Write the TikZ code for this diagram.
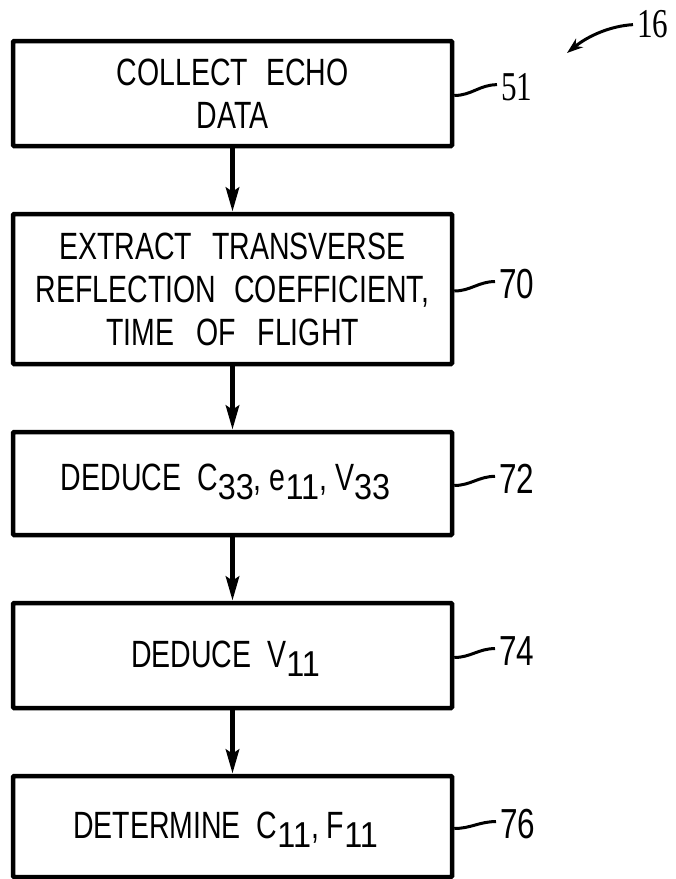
\documentclass[tikz,border=0pt]{standalone}
\usepackage{fontspec}
\setmainfont{Liberation Sans}[FakeStretch=0.75]
\newfontfamily\serlab{Liberation Serif}[FakeStretch=0.76]
\newfontfamily\subfnt{Liberation Sans}[FakeStretch=0.9]
\usetikzlibrary{arrows.meta,calc}
\newcommand\sbx[1]{\smash{\raisebox{-9pt}{\subfnt\fontsize{36}{36}\selectfont #1}}}
\begin{document}
\begin{tikzpicture}[x=1pt,y=-1pt,
  box/.style={draw, line width=4.5pt, minimum width=439pt, inner sep=0pt,
    font=\fontsize{38}{43}\selectfont, rounded corners=1pt},
  flow/.style={line width=5pt, -{Stealth[length=24pt,width=13pt,inset=4pt]}},
  lead/.style={line width=3pt},
  numsans/.style={font=\fontsize{42}{42}\selectfont, inner sep=0pt, anchor=base west},
  numser/.style={font=\serlab\fontsize{41}{41}\selectfont, inner sep=0pt, anchor=base west}]
\useasboundingbox (0,0) rectangle (676,879);

\node[box, minimum height=105pt, align=center] (b1) at (232.5,93.5)
  {COLLECT\hspace{18pt}ECHO\\DATA};
\node[box, minimum height=150pt, align=center] (b2) at (232.5,289)
  {EXTRACT\hspace{20pt}TRANSVERSE\\REFLECTION\hspace{18pt}COEFFICIENT,\\TIME\hspace{22pt}OF\hspace{22pt}FLIGHT};
\node[box, minimum height=103pt, text height=26pt, text depth=12pt] (b3) at (232.5,483.5)
  {DEDUCE\hspace{16pt}C\sbx{33}, e\sbx{11}, V\sbx{33}\hspace*{14pt}};
\node[box, minimum height=105pt, text height=26pt, text depth=2pt] (b4) at (232.5,655.5)
  {DEDUCE\hspace{16pt}V\sbx{11}\hspace*{14pt}};
\node[box, minimum height=101pt, text height=26pt, text depth=2pt] (b5) at (232.5,826.5)
  {DETERMINE\hspace{16pt}C\sbx{11}, F\sbx{11}\hspace*{14pt}};

\draw[flow] (b1.south) -- (b2.north);
\draw[flow] (b2.south) -- (b3.north);
\draw[flow] (b3.south) -- (b4.north);
\draw[flow] (b4.south) -- (b5.north);

\node[numser] (l51) at (501,100) {51};
\node[numsans] (l70) at (499,298) {70};
\node[numsans] (l72) at (499,493) {72};
\node[numsans] (l74) at (499,665) {74};
\node[numsans] (l76) at (500,838) {76};
\node[numser] (l16) at (637,37) {16};

\draw[lead] ($(b1.east)+(0,2)$) to[out=0,in=180] ($(l51.west)+(-4,-2)$);
\draw[lead] ($(b2.east)+(0,2)$) to[out=0,in=180] ($(l70.west)+(-4,-2)$);
\draw[lead] ($(b3.east)+(0,2)$) to[out=0,in=180] ($(l72.west)+(-4,-2)$);
\draw[lead] ($(b4.east)+(0,2)$) to[out=0,in=180] ($(l74.west)+(-4,-2)$);
\draw[lead] ($(b5.east)+(0,2)$) to[out=0,in=180] ($(l76.west)+(-4,-2)$);

\coordinate (tip16) at (567,53);
\draw[lead, -{Stealth[length=16pt,width=11pt,inset=5pt]}]
  ($(l16.west)+(-4,1)$) .. controls (610,26) and (588,36) .. (tip16);
\end{tikzpicture}
\end{document}
